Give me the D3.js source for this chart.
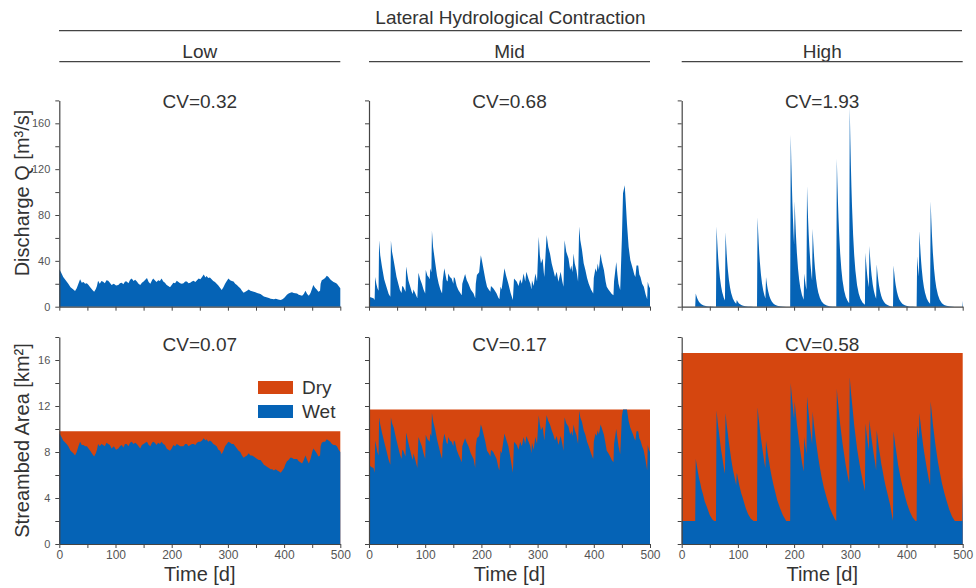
<!DOCTYPE html>
<html><head><meta charset="utf-8">
<script src="https://cdn.jsdelivr.net/npm/d3@7"></script>
<style>body{margin:0;background:#fff} text{font-family:"Liberation Sans",Arial,sans-serif}</style>
</head><body><svg id="c" width="976" height="588"></svg>
<script>
const headerTitle = "Lateral Hydrological Contraction";
const panelNames = ["Low","Mid","High"];
const cvDischarge = ["CV=0.32","CV=0.68","CV=1.93"];
const cvArea = ["CV=0.07","CV=0.17","CV=0.58"];
const totalArea = [9.8, 11.7, 16.6];
const legendLabels = ["Dry","Wet"];
const qTicks = [0,40,80,120,160];
const aTicks = [0,4,8,12,16];
const timeTicks = [0,100,200,300,400,500];

// [day, discharge Q (m3/s), wet streambed area (km2)]
const lowSeries = [[0,32.6,9.6],[3,30,9.4],[7,26,9.0],[13,22,8.7],[16,20,8.5],[20,17,8.1],[25,15,7.9],[28,13.7,7.7],[31,16,8.0],[34,20,8.5],[37,24,8.9],[40,21,8.6],[43,21.5,8.6],[46,20,8.5],[49,20.5,8.5],[52,19,8.3],[55,17,8.1],[59,14.5,7.8],[62,13,7.6],[65,15.5,7.9],[67,18,8.2],[69,22.7,8.7],[72,20,8.5],[75,22.5,8.7],[78,21.8,8.6],[81,20.5,8.5],[84,23,8.8],[87,22.7,8.7],[90,21,8.6],[93,19,8.3],[97,20,8.5],[101,18.5,8.2],[105,19,8.3],[108,20.5,8.5],[111,21,8.6],[114,19.5,8.4],[117,22,8.7],[120,22,8.7],[123,20.5,8.5],[126,23.5,8.8],[129,24.7,8.9],[132,22.5,8.7],[135,23.5,8.8],[138,22,8.7],[141,20,8.5],[144,19,8.3],[147,21,8.6],[150,22,8.7],[153,23.5,8.8],[156,25,8.9],[159,21.5,8.6],[162,20,8.5],[165,23,8.8],[167,24.7,8.9],[170,23,8.8],[173,21.5,8.6],[176,23,8.8],[179,22.5,8.7],[182,24.7,8.9],[185,22,8.7],[188,21,8.6],[191,19,8.3],[194,18,8.2],[197,17,8.1],[200,19,8.3],[203,21,8.6],[206,20.5,8.5],[209,22.7,8.7],[212,21.5,8.6],[215,20.5,8.5],[218,20,8.5],[221,20.5,8.5],[224,22,8.7],[227,22,8.7],[230,20.5,8.5],[233,21,8.6],[236,22,8.7],[239,22.7,8.7],[242,21.5,8.6],[245,23,8.8],[248,24.7,8.9],[251,24,8.9],[254,26,9.0],[257,28,9.2],[260,25.5,9.0],[262,26.8,9.1],[265,25,8.9],[268,25.5,9.0],[271,24,8.9],[274,22.5,8.7],[277,21.5,8.6],[280,20,8.5],[283,18.5,8.2],[286,16.5,8.1],[289,14.5,7.8],[292,17,8.1],[295,20,8.5],[298,22.5,8.7],[301,24.7,8.9],[304,23,8.8],[307,22.5,8.7],[310,22,8.7],[313,20,8.5],[316,19,8.3],[319,17.5,8.1],[322,16,8.0],[325,14,7.7],[328,12.2,7.5],[331,13,7.6],[334,14,7.7],[337,15,7.9],[340,14,7.7],[343,13.5,7.7],[346,13,7.6],[349,12.5,7.5],[352,12,7.4],[355,11.5,7.3],[358,11,7.3],[361,10,7.1],[364,9,6.9],[367,8.5,6.8],[370,8,6.7],[373,7.5,6.6],[376,7,6.5],[379,6.8,6.5],[382,6.4,6.4],[385,7,6.5],[388,6.5,6.4],[391,6,6.3],[394,5.8,6.2],[397,6.5,6.4],[400,7.5,6.6],[402,8.7,6.9],[405,10.5,7.2],[408,11.5,7.3],[411,12.2,7.5],[414,12.5,7.5],[417,12,7.4],[420,11.8,7.4],[423,11.6,7.4],[426,10.5,7.2],[429,10,7.1],[432,9.6,7.0],[435,11,7.3],[438,14,7.7],[441,11,7.3],[444,9.6,7.0],[447,12,7.4],[450,16,8.0],[452,19,8.3],[455,16.5,8.1],[458,15,7.9],[461,13,7.6],[464,14,7.7],[465,20,8.5],[467,23,8.8],[470,24,8.9],[473,25,8.9],[476,27,9.1],[479,26,9.0],[482,24,8.9],[485,22.7,8.7],[488,21.5,8.6],[491,21,8.6],[494,20,8.5],[497,18,8.2],[500,16,8.0]];

const midSeries = [[0,8.7,6.9],[4,8,6.7],[8,7.3,6.6],[10,5.8,6.2],[11,26,9.0],[13,20,8.5],[15,16,8.0],[17,14,7.7],[18,58,11.0],[20,45,10.4],[23,35,9.7],[27,24,8.9],[31,17.5,8.1],[35,11,7.3],[38,8.7,6.9],[39,57.6,11.0],[41,48,10.5],[44,40,10.1],[49,26,9.0],[55,14.5,7.8],[58,12,7.4],[59,18,8.2],[61,17.5,8.1],[65,13,7.6],[66,35,9.7],[70,23,8.8],[76,13,7.6],[78,11,7.3],[79,15,7.9],[82,12,7.4],[86,7.3,6.6],[88,29.7,9.3],[91,24,8.9],[94,20,8.5],[97,15,7.9],[100,11.6,7.4],[101,32,9.5],[104,27,9.1],[106,26,9.0],[108,24,8.9],[109,33.5,9.6],[111,30,9.4],[112,66,11.4],[114,52,10.7],[118,37.8,9.9],[121,27,9.1],[124,20,8.5],[127,15,7.9],[130,11.6,7.4],[131,22,8.7],[134,33.5,9.6],[138,23,8.8],[140,22,8.7],[141,29,9.3],[144,26,9.0],[147,24.7,8.9],[150,20,8.5],[151,26,9.0],[153,24.7,8.9],[156,18,8.2],[159,14.5,7.8],[165,10,7.1],[166,20,8.5],[171,28.5,9.2],[174,23,8.8],[177,20,8.5],[181,15,7.9],[186,11.6,7.4],[189,7.3,6.6],[190,20,8.5],[192,27.6,9.2],[196,30,9.4],[199,45,10.4],[201,40,10.1],[204,32,9.5],[207,24,8.9],[210,17.5,8.1],[213,15,7.9],[216,13,7.6],[217,18,8.2],[221,16,8.0],[224,14,7.7],[227,11.6,7.4],[230,8,6.7],[232,6.4,6.4],[234,17.5,8.1],[236,15,7.9],[241,33.5,9.6],[244,27,9.1],[248,20,8.5],[252,12,7.4],[256,5.8,6.2],[258,24.7,8.9],[263,21.8,8.6],[266,18,8.2],[269,24,8.9],[272,20,8.5],[275,29,9.3],[278,22,8.7],[280,30.5,9.4],[284,24,8.9],[287,20,8.5],[289,15,7.9],[290,23,8.8],[293,18,8.2],[296,29,9.3],[299,22,8.7],[302,61,11.2],[304,45,10.4],[306,37.8,9.9],[309,42,10.2],[311,30,9.4],[312,26,9.0],[316,62.5,11.2],[319,52,10.7],[322,46.5,10.4],[325,38,9.9],[328,32,9.5],[331,26,9.0],[334,30.5,9.4],[337,21.8,8.6],[341,30.5,9.4],[344,22,8.7],[346,17.5,8.1],[348,58,11.0],[351,48,10.5],[355,42,10.2],[358,32,9.5],[360,36,9.8],[362,30,9.4],[364,46.5,10.4],[366,38,9.9],[369,32,9.5],[372,22,8.7],[374,70,11.6],[376,58,11.0],[379,49.4,10.6],[382,38,9.9],[385,32,9.5],[388,25,8.9],[391,20,8.5],[395,15,7.9],[399,11.6,7.4],[400,25,8.9],[403,33.5,9.6],[405,30,9.4],[407,37.8,9.9],[409,32,9.5],[412,46.5,10.4],[414,40,10.1],[418,32,9.5],[421,22,8.7],[423,17.5,8.1],[426,15,7.9],[429,13,7.6],[432,11,7.3],[435,10,7.1],[436,22,8.7],[440,39,10.0],[442,28,9.2],[444,20,8.5],[447,14.5,7.8],[450,60,11.1],[452,99,11.7],[455,106,11.7],[457,90,11.7],[459,72.7,11.7],[462,52,10.7],[465,40.7,10.1],[470,32,9.5],[472,28,9.2],[474,26,9.0],[476,36,9.8],[479,36,9.8],[481,28,9.2],[483,26,9.0],[486,20,8.5],[489,17.5,8.1],[492,11,7.3],[495,6.4,6.4],[496,21.8,8.6],[498,18,8.2],[500,16,8.0]];

const highSeries = [[0,0,2.0],[24,0,2.0],[25,11.6,7.4],[26,9.8,7.1],[27,8.3,6.8],[28,7.0,6.5],[29,5.9,6.2],[31,4.2,5.7],[33,3.0,5.3],[35,2.1,4.8],[38,1.3,4.3],[41,0.76,3.7],[45,0.39,3.2],[50,0.17,2.5],[55,0.07,2.1],[58,0.04,2.0],[61,0.02,2.0],[62,70,11.6],[63,59,11.1],[64,50,10.6],[65,42,10.2],[66,35.5,9.8],[68,25.3,9.0],[70,18,8.2],[72,12.8,7.6],[75,7.6,6.6],[77,5.4,6.1],[78,65,11.4],[79,55,10.9],[80,46.3,10.4],[81,39,10.0],[82,33,9.6],[84,23.5,8.8],[86,16.7,8.1],[88,11.9,7.4],[91,7.1,6.5],[94,4.3,5.8],[97,2.6,5.1],[98,5.8,6.2],[99,4.9,6.0],[100,4.1,5.7],[101,3.5,5.5],[102,2.9,5.2],[104,2.1,4.8],[106,1.5,4.4],[108,1.06,4.1],[111,0.63,3.6],[114,0.38,3.1],[118,0.19,2.6],[123,0.085,2.2],[128,0.035,2.0],[134,0.01,2.0],[135,78,11.9],[136,65.8,11.4],[137,55.5,10.9],[138,46.8,10.5],[139,39.5,10.0],[141,28.2,9.2],[143,20,8.5],[145,14.3,7.8],[147,10.1,7.1],[149,7.2,6.6],[150,26,9.0],[151,21.9,8.6],[152,18.5,8.3],[153,15.6,7.9],[154,13.2,7.6],[156,9.4,7.0],[158,6.7,6.4],[160,4.8,5.9],[163,2.8,5.2],[166,1.7,4.6],[170,0.87,3.8],[175,0.37,3.1],[180,0.16,2.5],[186,0.056,2.0],[193,0.02,2.0],[194,150,14.0],[195,126.6,13.4],[196,106.8,12.9],[197,90,12.3],[198,76,11.8],[199,64.1,11.3],[200,54.1,10.9],[201,92,12.4],[202,77.6,11.9],[203,65.5,11.4],[204,55.3,10.9],[205,46.6,10.4],[207,33.2,9.6],[209,23.6,8.8],[211,16.8,8.1],[214,10.1,7.1],[217,6.1,6.3],[218,29,9.3],[219,24.5,8.9],[220,20.6,8.5],[221,17.4,8.2],[222,14.7,7.8],[223,105,12.8],[224,88.6,12.3],[225,74.8,11.8],[226,63,11.3],[227,53.2,10.8],[229,37.9,9.9],[231,27,9.1],[232,22.8,8.7],[233,68,11.5],[234,57.4,11.0],[235,48.4,10.5],[236,40.8,10.1],[237,34.5,9.7],[239,24.5,8.9],[241,17.5,8.2],[243,12.4,7.5],[246,7.5,6.6],[249,4.5,5.8],[253,2.3,4.9],[258,0.97,4.0],[263,0.41,3.2],[268,0.17,2.6],[273,0.074,2.1],[275,0.05,2.0],[276,129,13.5],[277,108.9,12.9],[278,91.8,12.4],[279,77.5,11.9],[280,65.4,11.4],[282,46.5,10.4],[284,33.1,9.6],[286,23.6,8.8],[289,14.2,7.8],[292,8.5,6.8],[295,5.1,6.0],[298,3.1,5.3],[299,174,14.5],[300,146.9,13.9],[301,123.9,13.3],[302,104.5,12.8],[303,88.2,12.3],[305,62.8,11.3],[307,44.7,10.3],[309,31.8,9.5],[312,19,8.3],[315,11.5,7.4],[318,6.9,6.5],[322,3.5,5.5],[326,1.8,4.6],[327,47,10.5],[328,39.7,10.0],[329,33.5,9.6],[330,28.2,9.2],[331,23.8,8.8],[333,17,8.1],[334,53,10.8],[335,44.7,10.3],[336,37.7,9.9],[337,31.8,9.5],[338,26.9,9.1],[340,19.1,8.4],[342,13.6,7.7],[344,9.7,7.1],[346,6.9,6.4],[347,37,9.9],[348,31.2,9.5],[349,26.3,9.1],[350,22.2,8.7],[351,18.8,8.3],[353,13.4,7.7],[355,9.5,7.0],[357,6.8,6.5],[360,4.0,5.7],[363,2.4,5.0],[367,1.2,4.2],[371,0.5,3.4],[374,0.15,2.5],[376,0.05,2.0],[377,36,9.8],[378,30.4,9.4],[379,25.6,9.0],[380,21.6,8.6],[381,18.3,8.3],[383,13,7.6],[385,9.3,6.9],[387,6.6,6.4],[390,4.0,5.6],[393,2.4,5.0],[397,1.2,4.2],[401,0.61,3.5],[406,0.26,2.8],[411,0.11,2.3],[416,0.047,2.0],[418,0.02,2.0],[419,44,10.3],[420,37.1,9.9],[421,31.3,9.5],[422,26.4,9.1],[423,66,11.4],[424,55.7,10.9],[425,47,10.5],[426,39.6,10.0],[427,33.5,9.6],[429,23.8,8.8],[431,17,8.1],[433,12.1,7.5],[436,7.2,6.6],[439,4.3,5.8],[442,2.6,5.1],[443,92,12.4],[444,77.6,11.9],[445,65.5,11.4],[446,55.3,10.9],[447,46.6,10.4],[449,33.2,9.6],[451,23.6,8.8],[453,16.8,8.1],[456,10.1,7.1],[459,6.1,6.3],[463,3.1,5.3],[467,1.55,4.5],[471,0.78,3.8],[476,0.33,3.0],[481,0.14,2.4],[486,0.06,2.0],[499,0,2.0],[500,5.2,6.0]];

const series = [lowSeries, midSeries, highSeries];

const svg = d3.select("#c");
const colX = [59.3, 369, 681.7], colW = 281;
const topRange = [306.7, 100.4], botRange = [544, 337];
const blue = "#0563b6", orange = "#d5460f";
const ink = "#333", axisInk = "#444", tickInk = "#555";

// Header
svg.append("text").attr("x", 510.5).attr("y", 23.5).attr("text-anchor","middle")
  .attr("font-size",19).attr("fill",ink).text(headerTitle);
svg.append("line").attr("x1",59).attr("x2",962).attr("y1",30.7).attr("y2",30.7)
  .attr("stroke",axisInk).attr("stroke-width",1.3);
panelNames.forEach((n,i)=>{
  svg.append("text").attr("x", colX[i]+colW/2).attr("y", 57.5).attr("text-anchor","middle")
    .attr("font-size",19).attr("fill",ink).text(n);
  svg.append("line").attr("x1",colX[i]).attr("x2",colX[i]+colW).attr("y1",61.7).attr("y2",61.7)
    .attr("stroke",axisInk).attr("stroke-width",1.3);
});

function styleAxis(g){
  g.select(".domain").attr("stroke",axisInk).attr("stroke-width",1.2);
  g.selectAll(".tick line").attr("stroke",axisInk).attr("stroke-width",1);
  g.selectAll(".tick text").attr("fill",tickInk).attr("font-size",11)
    .attr("font-family",'"Liberation Sans",Arial,sans-serif');
}

series.forEach((s,i)=>{
  const x = d3.scaleLinear().domain([0,500]).range([colX[i], colX[i]+colW]);
  const yq = d3.scaleLinear().domain([0,180]).range(topRange);
  const ya = d3.scaleLinear().domain([0,18]).range(botRange);

  // Discharge
  svg.append("path").datum(s)
    .attr("d", d3.area().x(d=>x(d[0])).y0(yq(0)).y1(d=>yq(d[1])))
    .attr("fill", blue);
  // Streambed: dry (total) then wet
  svg.append("path").datum([0,500])
    .attr("d", d3.area().x(d=>x(d)).y0(ya(0)).y1(ya(totalArea[i])))
    .attr("fill", orange);
  svg.append("path").datum(s)
    .attr("d", d3.area().x(d=>x(d[0])).y0(ya(0)).y1(d=>ya(d[2])))
    .attr("fill", blue);

  // Axes top
  const gxT = svg.append("g").attr("transform",`translate(0,${yq(0)})`)
    .call(d3.axisBottom(x).tickValues(d3.range(0,501,50)).tickSize(4).tickSizeOuter(0).tickFormat(()=>""));
  styleAxis(gxT);
  const gyT = svg.append("g").attr("transform",`translate(${x(0)},0)`)
    .call(d3.axisLeft(yq).tickValues(d3.range(0,181,20)).tickSize(4).tickSizeOuter(0).tickPadding(5)
      .tickFormat(d => (i===0 && qTicks.includes(d)) ? d : ""));
  styleAxis(gyT);
  // Axes bottom
  const gxB = svg.append("g").attr("transform",`translate(0,${ya(0)})`)
    .call(d3.axisBottom(x).tickValues(d3.range(0,501,50)).tickSize(4).tickSizeOuter(0).tickPadding(2)
      .tickFormat(d => timeTicks.includes(d) ? d : ""));
  styleAxis(gxB);
  gxB.selectAll(".tick text").attr("font-size",12);
  const gyB = svg.append("g").attr("transform",`translate(${x(0)},0)`)
    .call(d3.axisLeft(ya).tickValues(d3.range(0,19,2)).tickSize(4).tickSizeOuter(0).tickPadding(5)
      .tickFormat(d => (i===0 && aTicks.includes(d)) ? d : ""));
  styleAxis(gyB);

  // CV labels
  svg.append("text").attr("x", x(250)).attr("y", 108.3).attr("text-anchor","middle")
    .attr("font-size",19).attr("fill",ink).text(cvDischarge[i]);
  svg.append("text").attr("x", x(250)).attr("y", 350.7).attr("text-anchor","middle")
    .attr("font-size",19).attr("fill",ink).text(cvArea[i]);
  // Time label
  svg.append("text").attr("x", x(250)).attr("y", 580.7).attr("text-anchor","middle")
    .attr("font-size",20).attr("fill",ink).text("Time [d]");
});

// Y labels
svg.append("text").attr("transform","translate(28.5,193) rotate(-90)").attr("text-anchor","middle")
  .attr("font-size",20).attr("fill",ink).text("Discharge Q [m³/s]");
svg.append("text").attr("transform","translate(28.5,440.5) rotate(-90)").attr("text-anchor","middle")
  .attr("font-size",20).attr("fill",ink).text("Streambed Area [km²]");

// Legend
const legColors = [orange, blue];
legendLabels.forEach((l,k)=>{
  svg.append("rect").attr("x",258).attr("y",381 + k*24).attr("width",35).attr("height",13).attr("fill",legColors[k]);
  svg.append("text").attr("x",302).attr("y",394 + k*24).attr("font-size",19).attr("fill",ink).text(l);
});
</script></body></html>
